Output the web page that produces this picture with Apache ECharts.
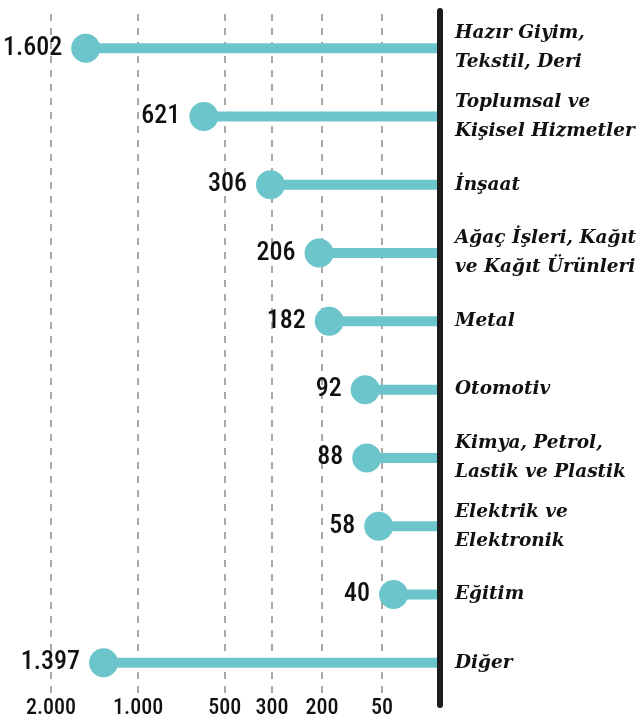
<!DOCTYPE html>
<html>
<head>
<meta charset="utf-8">
<script src="https://cdn.jsdelivr.net/npm/echarts@6/dist/echarts.min.js"></script>
<style>
  html, body { margin: 0; padding: 0; background: #fff; }
  #chart { width: 641px; height: 716px; }
</style>
</head>
<body>
<div id="chart"></div>
<script>
// sektörler (yukarıdan aşağıya)
const categories = [
  'Hazır Giyim,\nTekstil, Deri',
  'Toplumsal ve\nKişisel Hizmetler',
  'İnşaat',
  'Ağaç İşleri, Kağıt\nve Kağıt Ürünleri',
  'Metal',
  'Otomotiv',
  'Kimya, Petrol,\nLastik ve Plastik',
  'Elektrik ve\nElektronik',
  'Eğitim',
  'Diğer'
]
const values = [1602, 621, 306, 206, 182, 92, 88, 58, 40, 1397]
const tickValues = [2000, 1000, 500, 300, 200, 50]

// eksen ölçeği: değer -> eksen birimi (parçalı doğrusal, 0..100)
const scaleStops = [0, 50, 200, 300, 500, 1000, 2000]
const scaleUnits = [0, 13.2, 26.8, 38.2, 48.9, 68.6, 88.4]

const toScale = (v) => {
  for (let i = 1; i < scaleStops.length; i++) {
    if (v <= scaleStops[i]) {
      const t = (v - scaleStops[i - 1]) / (scaleStops[i] - scaleStops[i - 1])
      return scaleUnits[i - 1] + t * (scaleUnits[i] - scaleUnits[i - 1])
    }
  }
  return scaleUnits[scaleUnits.length - 1]
}
const fromScale = (u) => {
  for (let i = 1; i < scaleUnits.length; i++) {
    if (u <= scaleUnits[i] + 1e-9) {
      const t = (u - scaleUnits[i - 1]) / (scaleUnits[i] - scaleUnits[i - 1])
      return scaleStops[i - 1] + t * (scaleStops[i] - scaleStops[i - 1])
    }
  }
  return scaleStops[scaleStops.length - 1]
}
const fmt = (v) => String(Math.round(v)).replace(/\B(?=(\d{3})+(?!\d))/g, '.')

const teal = '#6cc5ca'
const numFont = "'Roboto Condensed', 'Liberation Sans Narrow', 'DejaVu Sans Condensed', Roboto, sans-serif"

const chart = echarts.init(document.getElementById('chart'))
chart.setOption({
  animation: false,
  backgroundColor: '#fff',
  grid: [
    { left: 0, right: 201, top: 14, bottom: 19, outerBoundsMode: 'none', containLabel: false },
    { left: 0, right: 201, top: 11, bottom: 11, outerBoundsMode: 'none', containLabel: false }
  ],
  xAxis: [
    {
      type: 'value',
      gridIndex: 0,
      inverse: true,
      min: 0,
      max: 100,
      axisLine: { show: false },
      axisTick: { show: false, customValues: tickValues.map(toScale) },
      axisLabel: {
        customValues: tickValues.map(toScale),
        formatter: (u) => fmt(fromScale(u)),
        margin: 0,
        color: '#111',
        fontFamily: numFont,
        fontSize: 22,
        fontWeight: 500
      },
      splitLine: {
        show: true,
        lineStyle: { color: '#a9a9a9', width: 2, type: [7, 7] }
      }
    },
    { type: 'value', gridIndex: 1, show: false, min: 0, max: 1 }
  ],
  yAxis: [
    {
      type: 'category',
      gridIndex: 0,
      position: 'right',
      inverse: true,
      data: categories,
      axisLine: { show: false },
      axisTick: { show: false },
      splitLine: { show: false },
      axisLabel: {
        interval: 0,
        margin: 15,
        align: 'left',
        color: '#111',
        fontFamily: "'DejaVu Serif', 'Liberation Serif', serif",
        fontStyle: 'italic',
        fontWeight: 'bold',
        fontSize: 18.5,
        lineHeight: 29
      }
    },
    {
      type: 'value',
      gridIndex: 1,
      position: 'right',
      min: 0,
      max: 1,
      z: 10,
      axisLine: { show: true, onZero: false, lineStyle: { color: '#1c1c1c', width: 6 } },
      axisTick: { show: false },
      axisLabel: { show: false },
      splitLine: { show: false }
    }
  ],
  series: [
    {
      type: 'bar',
      xAxisIndex: 0,
      yAxisIndex: 0,
      barWidth: 10,
      itemStyle: { color: teal },
      data: values.map(toScale),
      z: 2
    },
    {
      type: 'scatter',
      xAxisIndex: 0,
      yAxisIndex: 0,
      symbol: 'circle',
      symbolSize: 29,
      itemStyle: { color: teal, opacity: 1 },
      data: values.map((v, i) => [toScale(v), i]),
      z: 3,
      label: {
        show: true,
        position: 'left',
        distance: 9,
        formatter: (p) => fmt(values[p.dataIndex]),
        color: '#111',
        fontFamily: numFont,
        fontSize: 26,
        fontWeight: 500
      }
    }
  ]
})
</script>
</body>
</html>
